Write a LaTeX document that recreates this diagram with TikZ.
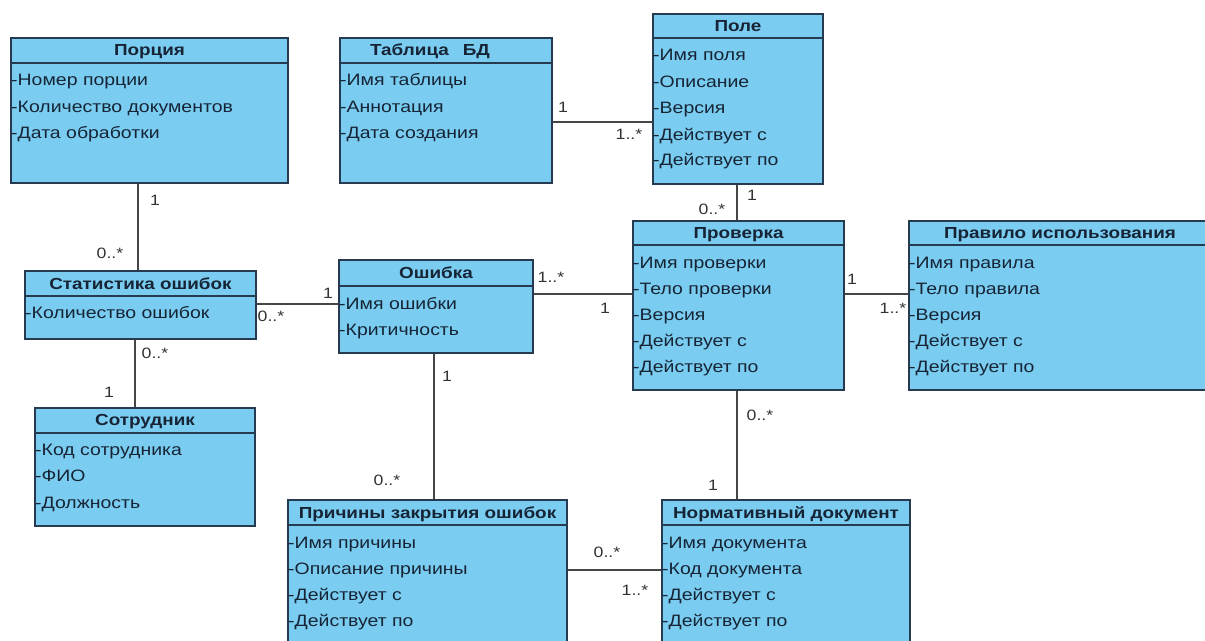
\documentclass[tikz,border=0pt]{standalone}
\usepackage{fontspec}
\setmainfont{Liberation Sans}[FakeStretch=1.18]
\definecolor{boxfill}{RGB}{122,205,240}
\definecolor{boxline}{RGB}{38,58,80}
\definecolor{txt}{RGB}{22,36,54}
\definecolor{conn}{RGB}{70,70,70}
\tikzset{
 classbox/.style={draw=boxline, line width=2pt, fill=boxfill, rectangle, inner sep=0pt, anchor=north west},
 attr/.style={anchor=west, inner sep=0pt, xshift=1pt, text=txt, font=\fontsize{16.5}{18}\selectfont, text height=11.8pt, text depth=0pt},
 ttl/.style={anchor=center, inner sep=0pt, text=txt, font=\fontsize{16}{18}\selectfont\bfseries, text height=11.5pt, text depth=0pt},
 sep/.style={draw=boxline, line width=2pt},
 link/.style={draw=conn, line width=2pt},
 mult/.style={inner sep=0pt, text=black!80, font=\fontsize{15}{17}\selectfont, text height=10.5pt, text depth=0pt, anchor=center}
}
\begin{document}
\begin{tikzpicture}[x=1pt,y=-1pt]
\useasboundingbox (0,0) rectangle (1205,640);
\fill[white] (0,0) rectangle (1205,640);
\clip (0,0) rectangle (1205,640);

% ---- connector levels
\coordinate (yTP) at (0,122);
\coordinate (xPS) at (138,0);
\coordinate (xSS) at (135,0);
\coordinate (ySO) at (0,304);
\coordinate (yOP) at (0,294);
\coordinate (xPP) at (737,0);
\coordinate (yPR) at (0,294);
\coordinate (xOP) at (434,0);
\coordinate (yPN) at (0,570);

% ---- boxes
\node[classbox, minimum width=277pt, minimum height=145pt] (porc) at (10,37) {};
\node[classbox, minimum width=212pt, minimum height=145pt] (tabl) at (339,37) {};
\node[classbox, minimum width=170pt, minimum height=170pt] (pole) at (652,13) {};
\node[classbox, minimum width=211pt, minimum height=169pt] (prov) at (632,220) {};
\node[classbox, minimum width=304pt, minimum height=169pt] (prav) at (908,220) {};
\node[classbox, minimum width=194pt, minimum height=93pt] (osh) at (338,259) {};
\node[classbox, minimum width=231pt, minimum height=68pt] (stat) at (24,270) {};
\node[classbox, minimum width=220pt, minimum height=118pt] (sotr) at (34,407) {};
\node[classbox, minimum width=279pt, minimum height=161pt] (prich) at (287,499) {};
\node[classbox, minimum width=248pt, minimum height=161pt] (norm) at (661,499) {};

% ---- header separators
\draw[sep] (porc.west |- 0,63) -- (porc.east |- 0,63);
\draw[sep] (tabl.west |- 0,63) -- (tabl.east |- 0,63);
\draw[sep] (pole.west |- 0,38) -- (pole.east |- 0,38);
\draw[sep] (prov.west |- 0,245) -- (prov.east |- 0,245);
\draw[sep] (prav.west |- 0,245) -- (prav.east |- 0,245);
\draw[sep] (osh.west |- 0,286) -- (osh.east |- 0,286);
\draw[sep] (stat.west |- 0,296) -- (stat.east |- 0,296);
\draw[sep] (sotr.west |- 0,433) -- (sotr.east |- 0,433);
\draw[sep] (prich.west |- 0,525) -- (prich.east |- 0,525);
\draw[sep] (norm.west |- 0,525) -- (norm.east |- 0,525);

% ---- titles
\node[ttl] (porcT) at (porc.north |- 0,50) {Порция};
\node[ttl] (tablT) at (430,50) {Таблица\hspace{14pt}БД};
\node[ttl] (poleT) at (pole.north |- 0,26) {Поле};
\node[ttl] (provT) at (prov.north |- 0,233) {Проверка};
\node[ttl] (pravT) at (1060,233) {Правило использования};
\node[ttl] (oshT) at (osh.north |- 0,273) {Ошибка};
\node[ttl] (statT) at (stat.north |- 0,284) {Статистика ошибок};
\node[ttl] (sotrT) at (sotr.north |- 0,420) {Сотрудник};
\node[ttl] (prichT) at (prich.north |- 0,513) {Причины закрытия ошибок};
\node[ttl] (normT) at (norm.north |- 0,513) {Нормативный документ};

% ---- attributes
\node[attr] (porc1) at (porc.west |- 0,80) {-Номер порции};
\node[attr] (porc2) at (porc.west |- 0,107) {-Количество документов};
\node[attr] (porc3) at (porc.west |- 0,133) {-Дата обработки};

\node[attr] (tabl1) at (tabl.west |- 0,80) {-Имя таблицы};
\node[attr] (tabl2) at (tabl.west |- 0,107) {-Аннотация};
\node[attr] (tabl3) at (tabl.west |- 0,133) {-Дата создания};

\node[attr] (pole1) at (pole.west |- 0,55) {-Имя поля};
\node[attr] (pole2) at (pole.west |- 0,82) {-Описание};
\node[attr] (pole3) at (pole.west |- 0,108) {-Версия};
\node[attr] (pole4) at (pole.west |- 0,135) {-Действует с};
\node[attr] (pole5) at (pole.west |- 0,160) {-Действует по};

\node[attr] (prov1) at (prov.west |- 0,263) {-Имя проверки};
\node[attr] (prov2) at (prov.west |- 0,289) {-Тело проверки};
\node[attr] (prov3) at (prov.west |- 0,315) {-Версия};
\node[attr] (prov4) at (prov.west |- 0,341) {-Действует с};
\node[attr] (prov5) at (prov.west |- 0,367) {-Действует по};

\node[attr] (prav1) at (prav.west |- 0,263) {-Имя правила};
\node[attr] (prav2) at (prav.west |- 0,289) {-Тело правила};
\node[attr] (prav3) at (prav.west |- 0,315) {-Версия};
\node[attr] (prav4) at (prav.west |- 0,341) {-Действует с};
\node[attr] (prav5) at (prav.west |- 0,367) {-Действует по};

\node[attr] (osh1) at (osh.west |- 0,304) {-Имя ошибки};
\node[attr] (osh2) at (osh.west |- 0,330) {-Критичность};

\node[attr] (stat1) at (stat.west |- 0,313) {-Количество ошибок};

\node[attr] (sotr1) at (sotr.west |- 0,450) {-Код сотрудника};
\node[attr] (sotr2) at (sotr.west |- 0,476) {-ФИО};
\node[attr] (sotr3) at (sotr.west |- 0,503) {-Должность};

\node[attr] (prich1) at (prich.west |- 0,543) {-Имя причины};
\node[attr] (prich2) at (prich.west |- 0,569) {-Описание причины};
\node[attr] (prich3) at (prich.west |- 0,595) {-Действует с};
\node[attr] (prich4) at (prich.west |- 0,621) {-Действует по};

\node[attr] (norm1) at (norm.west |- 0,543) {-Имя документа};
\node[attr] (norm2) at (norm.west |- 0,569) {-Код документа};
\node[attr] (norm3) at (norm.west |- 0,595) {-Действует с};
\node[attr] (norm4) at (norm.west |- 0,621) {-Действует по};

% ---- connectors
\draw[link] (tabl.east |- yTP) -- (pole.west |- yTP);
\draw[link] (porc.south -| xPS) -- (stat.north -| xPS);
\draw[link] (stat.south -| xSS) -- (sotr.north -| xSS);
\draw[link] (stat.east |- ySO) -- (osh.west |- ySO);
\draw[link] (osh.east |- yOP) -- (prov.west |- yOP);
\draw[link] (pole.south -| xPP) -- (prov.north -| xPP);
\draw[link] (prov.east |- yPR) -- (prav.west |- yPR);
\draw[link] (osh.south -| xOP) -- (prich.north -| xOP);
\draw[link] (prov.south -| xPP) -- (norm.north -| xPP);
\draw[link] (prich.east |- yPN) -- (norm.west |- yPN);

% ---- multiplicities
\node[mult] (m1) at (563,107) {1};
\node[mult] (m2) at (629,134) {1..*};
\node[mult] (m3) at (752,195) {1};
\node[mult] (m4) at (712,209) {0..*};
\node[mult] (m5) at (155,200) {1};
\node[mult] (m6) at (110,253) {0..*};
\node[mult] (m7) at (328,293) {1};
\node[mult] (m8) at (271,316) {0..*};
\node[mult] (m9) at (155,353) {0..*};
\node[mult] (m10) at (109,392) {1};
\node[mult] (m11) at (551,277) {1..*};
\node[mult] (m12) at (605,308) {1};
\node[mult] (m13) at (852,279) {1};
\node[mult] (m14) at (893,308) {1..*};
\node[mult] (m15) at (447,376) {1};
\node[mult] (m16) at (387,480) {0..*};
\node[mult] (m17) at (760,415) {0..*};
\node[mult] (m18) at (713,485) {1};
\node[mult] (m19) at (607,552) {0..*};
\node[mult] (m20) at (635,590) {1..*};
\end{tikzpicture}
\end{document}
